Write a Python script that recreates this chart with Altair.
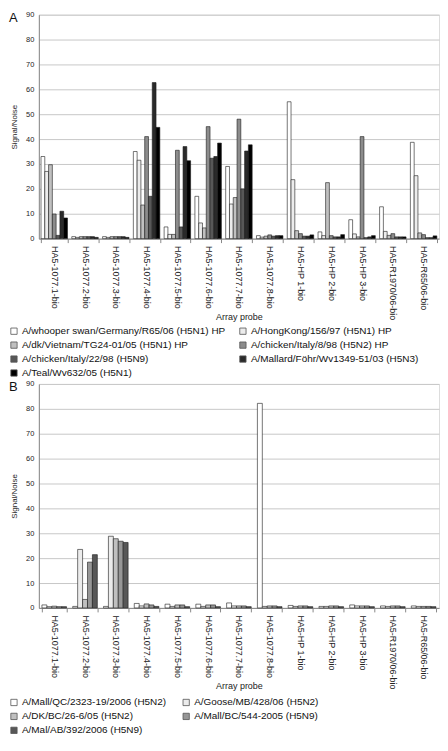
import altair as alt
import pandas as pd

probes = ["HA5-1077.1-bio", "HA5-1077.2-bio", "HA5-1077.3-bio", "HA5-1077.4-bio",
          "HA5-1077.5-bio", "HA5-1077.6-bio", "HA5-1077.7-bio", "HA5-1077.8-bio",
          "HA5-HP 1-bio", "HA5-HP 2-bio", "HA5-HP 3-bio", "HA5-R1970/06-bio",
          "HA5-R65/06-bio"]

# Panel A strains and values (Signal/Noise per probe)
strains_a = ["A/whooper swan/Germany/R65/06 (H5N1) HP",
             "A/HongKong/156/97 (H5N1) HP",
             "A/dk/Vietnam/TG24-01/05 (H5N1) HP",
             "A/chicken/Italy/8/98 (H5N2) HP",
             "A/chicken/Italy/22/98 (H5N9)",
             "A/Mallard/Föhr/Wv1349-51/03 (H5N3)",
             "A/Teal/Wv632/05 (H5N1)"]
whooper = [33, 0.8, 0.8, 35, 4.7, 17, 29, 1.2, 55, 2.7, 7.6, 12.8, 38.7]
hongkong = [27, 0.5, 0.5, 31.5, 1.7, 6.3, 13.9, 0.6, 23.7, 1.2, 1.9, 2.9, 25.3]
dk_vietnam = [29.7, 0.8, 0.8, 13.5, 1.7, 4.3, 16.5, 1.0, 3.2, 22.5, 0.7, 1.3, 2.3]
chicken_8_98 = [9.9, 0.8, 0.8, 41, 35.5, 45, 48, 1.5, 2.0, 1.2, 41, 2.0, 1.6]
chicken_22_98 = [1.3, 0.8, 0.8, 17, 4.7, 32.3, 20, 1.0, 1.0, 0.7, 0.4, 0.7, 0.4]
mallard_foehr = [11, 0.8, 0.8, 62.7, 37, 33, 35.2, 1.2, 1.0, 0.7, 0.7, 0.7, 0.4]
teal = [8.3, 0.5, 0.5, 44.7, 31.3, 38.4, 37.7, 1.2, 1.5, 1.6, 1.2, 0.7, 1.1]
colors_a = ["#ffffff", "#ececec", "#c0c0c0", "#8c8c8c", "#575757", "#2a2a2a", "#000000"]

# Panel B strains and values
strains_b = ["A/Mall/QC/2323-19/2006 (H5N2)",
             "A/Goose/MB/428/06 (H5N2)",
             "A/DK/BC/26-6/05 (H5N2)",
             "A/Mall/BC/544-2005 (H5N9)",
             "A/Mal/AB/392/2006 (H5N9)"]
mall_qc = [1.2, 0.6, 0.6, 1.8, 1.5, 1.5, 2.0, 82.2, 1.0, 0.6, 1.2, 0.8, 0.8]
goose_mb = [0.5, 23.5, 28.8, 0.8, 0.6, 0.6, 0.8, 0.6, 0.6, 0.6, 0.8, 0.6, 0.6]
dk_bc = [0.7, 3.4, 27.8, 1.6, 1.2, 1.2, 0.8, 0.8, 0.8, 0.8, 0.8, 0.8, 0.6]
mall_bc = [0.5, 18.4, 26.8, 1.2, 1.2, 1.2, 0.8, 0.8, 0.8, 0.8, 0.8, 0.8, 0.6]
mal_ab = [0.5, 21.4, 26.3, 0.6, 0.5, 0.5, 0.5, 0.5, 0.5, 0.5, 0.5, 0.5, 0.5]
colors_b = ["#ffffff", "#ececec", "#c0c0c0", "#969696", "#575757"]

FONT = "Liberation Sans"
H = 225
W = 402


def long_df(strains, series):
    rows = []
    for s, vals in zip(strains, series):
        for p, v in zip(probes, vals):
            rows.append({"probe": p, "strain": s, "value": v})
    return pd.DataFrame(rows)


def panel(df, strains, colors, letter, pad_inner, col_pad, leg_y):
    bars = alt.Chart(df).mark_bar(stroke="#1a1a1a", strokeWidth=0.6).encode(
        x=alt.X("probe:N", sort=probes,
                scale=alt.Scale(paddingInner=pad_inner, paddingOuter=pad_inner / 2),
                axis=alt.Axis(title="Array probe", labelAngle=90, labelAlign="left",
                              labelBaseline="middle", labelPadding=3, labelFontSize=9,
                              labelColor="#222", labelFont=FONT, labelOverlap=False,
                              labelFlush=False, labelLimit=200,
                              tickBand="extent", tickSize=4, tickColor="#888",
                              domainColor="#888", grid=False,
                              titleFont=FONT, titleFontSize=9, titleFontWeight="normal",
                              titleColor="#222", titleY=78, titleBaseline="middle")),
        xOffset=alt.XOffset("strain:N", sort=strains),
        y=alt.Y("value:Q", scale=alt.Scale(domain=[0, 90], nice=False),
                axis=alt.Axis(title="Signal/Noise", values=list(range(0, 91, 10)),
                              ticks=False, labelPadding=5, labelFontSize=7.5,
                              labelColor="#222", labelFont=FONT,
                              domainColor="#888", gridColor="#c8c8c8", gridWidth=1,
                              titleFont=FONT, titleFontSize=8, titleFontWeight="normal",
                              titleColor="#222", titlePadding=7)),
        color=alt.Color("strain:N", scale=alt.Scale(domain=strains, range=colors),
                        legend=alt.Legend(title=None, orient="none", legendX=-30,
                                          legendY=H + leg_y, columns=2,
                                          direction="horizontal",
                                          columnPadding=col_pad, rowPadding=4,
                                          symbolType="square", symbolSize=40,
                                          symbolStrokeColor="#555",
                                          symbolStrokeWidth=0.8, labelOffset=3,
                                          labelFont=FONT, labelFontSize=10,
                                          labelColor="#111", labelLimit=400)),
    )
    lab = alt.Chart(pd.DataFrame({"t": [letter]})).mark_text(
        align="left", baseline="top", fontSize=13, font=FONT, color="#111"
    ).encode(text="t:N", x=alt.value(-30), y=alt.value(-3))
    return alt.layer(bars, lab).properties(width=W, height=H)


df_a = long_df(strains_a, [whooper, hongkong, dk_vietnam, chicken_8_98,
                           chicken_22_98, mallard_foehr, teal])
df_b = long_df(strains_b, [mall_qc, goose_mb, dk_bc, mall_bc, mal_ab])

chart_a = panel(df_a, strains_a, colors_a, "A", 0.14, 12, 88)
chart_b = panel(df_b, strains_b, colors_b, "B", 0.2, 14, 90)

chart = alt.vconcat(chart_a, chart_b, spacing=0).resolve_scale(
    x="independent", y="independent", color="independent", xOffset="independent"
).resolve_legend(color="independent").properties(padding=0).configure_view(
    stroke="#999", strokeWidth=1
).configure(font=FONT)

chart.save("out.html", embed_options={"renderer": "svg", "actions": False})
